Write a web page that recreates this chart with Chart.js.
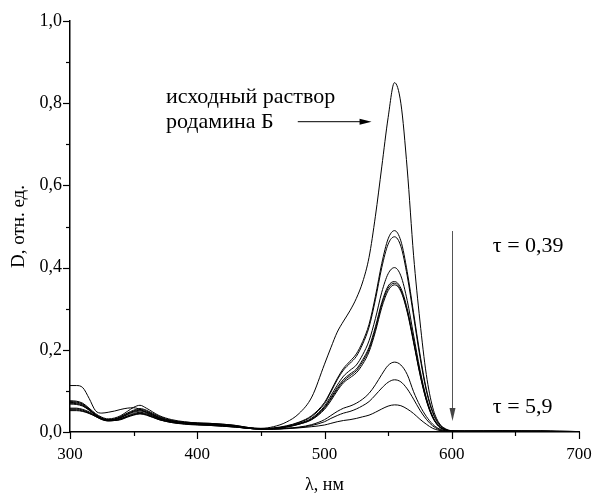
<!DOCTYPE html>
<html>
<head>
<meta charset="utf-8">
<script src="https://cdn.jsdelivr.net/npm/chart.js@4"></script>
<style>
  html, body { margin: 0; padding: 0; background: #fff; }
  #wrap { width: 593px; height: 494px; }
</style>
</head>
<body>
<div id="wrap"><canvas id="chart" width="593" height="494"></canvas></div>
<script>
// wavelength, nm
const lambda = [300,305,310,315,320,325,330,335,340,345,
  350,355,360,370,380,390,400,410,420,430,
  440,450,460,470,480,490,500,505,510,515,
  520,525,530,535,540,545,550,555,560,565,
  570,575,580,585,590,595,600,610,625,640,
  655,670,685,700];

// optical density spectra (initial rhodamine B solution first, then in time)
const dInit = [.113,.113,.108,.082,.052,.046,.048,.051,.055,.058,
  .059,.055,.047,.033,.027,.024,.022,.021,.019,.016,
  .011,.009,.013,.024,.045,.085,.165,.205,.243,.270,
  .295,.325,.365,.425,.525,.645,.765,.850,.800,.640,
  .430,.270,.140,.060,.022,.008,.003,.002,.002,.003,
  .002,.003,.002,.001];
const d2 = [.076,.075,.070,.058,.045,.036,.032,.034,.040,.050,
  .060,.065,.058,.040,.030,.025,.022,.021,.019,.016,
  .011,.008,.010,.015,.024,.040,.072,.100,.130,.155,
  .172,.190,.220,.262,.330,.410,.470,.490,.465,.390,
  .290,.190,.105,.050,.020,.007,.003,.002,.002,.002,
  .002,.002,.002,.001];
const d3 = [.074,.073,.068,.056,.043,.034,.030,.032,.038,.046,
  .053,.057,.053,.038,.028,.023,.021,.020,.018,.015,
  .010,.008,.009,.014,.023,.038,.069,.097,.127,.151,
  .167,.184,.214,.255,.322,.400,.457,.475,.452,.380,
  .282,.183,.101,.047,.018,.006,.002,.002,.002,.002,
  .002,.002,.001,.001];
const d4 = [.072,.071,.066,.055,.042,.033,.030,.031,.036,.044,
  .051,.055,.051,.036,.027,.023,.021,.019,.017,.014,
  .010,.008,.009,.013,.021,.034,.063,.088,.114,.136,
  .150,.163,.188,.222,.276,.340,.385,.400,.380,.320,
  .236,.152,.084,.038,.015,.005,.002,.002,.002,.002,
  .002,.002,.001,.001];
const d5 = [.070,.069,.064,.054,.042,.033,.029,.031,.036,.043,
  .050,.053,.049,.035,.026,.022,.020,.019,.017,.014,
  .010,.008,.009,.013,.020,.032,.060,.083,.108,.128,
  .141,.153,.176,.206,.256,.315,.355,.366,.350,.300,
  .224,.145,.080,.037,.014,.005,.002,.002,.002,.002,
  .002,.002,.001,.001];
const d6 = [.068,.067,.063,.053,.041,.032,.029,.030,.035,.042,
  .048,.051,.048,.034,.025,.021,.019,.018,.016,.013,
  .009,.007,.008,.012,.019,.031,.058,.080,.104,.124,
  .137,.149,.171,.201,.250,.310,.350,.362,.345,.295,
  .220,.142,.078,.036,.013,.005,.002,.002,.002,.002,
  .002,.001,.001,.001];
const d7 = [.058,.058,.055,.049,.040,.032,.028,.029,.033,.039,
  .045,.048,.045,.032,.024,.021,.019,.018,.016,.013,
  .009,.007,.008,.012,.019,.030,.055,.076,.100,.120,
  .132,.144,.165,.195,.244,.303,.344,.358,.342,.292,
  .218,.140,.077,.035,.013,.005,.002,.002,.002,.002,
  .002,.001,.001,.001];
const d8 = [.056,.056,.053,.047,.039,.031,.028,.028,.032,.038,
  .043,.046,.043,.031,.024,.020,.018,.017,.015,.012,
  .009,.007,.007,.009,.012,.018,.030,.040,.050,.058,
  .063,.070,.080,.094,.115,.140,.162,.170,.163,.140,
  .098,.064,.038,.019,.008,.003,.001,.001,.002,.002,
  .002,.001,.001,.001];
const d9 = [.054,.054,.051,.046,.038,.031,.027,.028,.031,.037,
  .042,.045,.042,.030,.023,.020,.018,.016,.014,.012,
  .009,.007,.007,.009,.011,.016,.025,.033,.040,.046,
  .050,.056,.064,.074,.090,.107,.121,.127,.122,.105,
  .080,.053,.031,.015,.006,.002,.001,.001,.001,.002,
  .001,.001,.001,.001];
const d10 = [.052,.052,.050,.045,.038,.030,.027,.028,.030,.036,
  .041,.044,.041,.030,.023,.019,.017,.016,.014,.012,
  .009,.007,.007,.008,.010,.013,.017,.021,.025,.028,
  .030,.033,.037,.041,.048,.056,.063,.066,.064,.056,
  .045,.031,.019,.009,.004,.002,.001,.001,.001,.001,
  .001,.001,.001,.001];

const spectra = [dInit, d2, d3, d4, d5, d6, d7, d8, d9, d10];

const serif = "'Liberation Serif', 'Times New Roman', serif";

// minor ticks, annotations and arrows
const decor = {
  id: 'decor',
  afterDraw(chart) {
    const { ctx, scales: { x, y } } = chart;
    ctx.save();
    ctx.strokeStyle = '#000';
    ctx.lineWidth = 1.2;

    const drawTicks = (scale, horiz) => {
      const vals = scale.ticks.map(t => t.value);
      const all = [];
      vals.forEach((v, i) => {
        all.push([v, 7]);
        if (i < vals.length - 1) all.push([(v + vals[i + 1]) / 2, 4]);
      });
      all.forEach(([v, len]) => {
        const p = Math.round(scale.getPixelForValue(v)) + 0.5;
        ctx.beginPath();
        if (horiz) {
          ctx.moveTo(p, scale.top);
          ctx.lineTo(p, scale.top + len);
        } else {
          ctx.moveTo(scale.right, p);
          ctx.lineTo(scale.right - len, p);
        }
        ctx.stroke();
      });
    };
    drawTicks(x, true);
    drawTicks(y, false);

    ctx.fillStyle = '#000';
    ctx.font = '22px ' + serif;
    ctx.textBaseline = 'alphabetic';
    ctx.fillText('исходный раствор', x.getPixelForValue(375.4), y.getPixelForValue(0.80));
    ctx.fillText('родамина Б', x.getPixelForValue(375.4), y.getPixelForValue(0.739));
    ctx.fillText('τ = 0,39', x.getPixelForValue(632.3), y.getPixelForValue(0.438));
    ctx.fillText('τ = 5,9', x.getPixelForValue(632.3), y.getPixelForValue(0.046));

    // horizontal arrow to the initial spectrum
    const hy = y.getPixelForValue(0.755);
    const hx0 = x.getPixelForValue(479), hx1 = x.getPixelForValue(537);
    ctx.lineWidth = 1;
    ctx.beginPath();
    ctx.moveTo(hx0, hy);
    ctx.lineTo(hx1 - 8, hy);
    ctx.stroke();
    ctx.beginPath();
    ctx.moveTo(hx1, hy);
    ctx.lineTo(hx1 - 12, hy - 3);
    ctx.lineTo(hx1 - 12, hy + 3);
    ctx.closePath();
    ctx.fill();

    // vertical arrow, time direction
    ctx.strokeStyle = '#555';
    ctx.fillStyle = '#444';
    const vx = Math.round(x.getPixelForValue(600)) + 0.5;
    const vy0 = y.getPixelForValue(0.489), vy1 = y.getPixelForValue(0.027);
    ctx.beginPath();
    ctx.moveTo(vx, vy0);
    ctx.lineTo(vx, vy1 - 8);
    ctx.stroke();
    ctx.beginPath();
    ctx.moveTo(vx, vy1);
    ctx.lineTo(vx - 3, vy1 - 13);
    ctx.lineTo(vx + 3, vy1 - 13);
    ctx.closePath();
    ctx.fill();
    ctx.restore();
  }
};

const chart = new Chart(document.getElementById('chart'), {
  type: 'line',
  data: {
    datasets: spectra.map((d, k) => ({
      label: 'D' + (k + 1),
      data: lambda.map((l, i) => ({ x: l, y: d[i] })),
      borderColor: '#000',
      borderWidth: 1,
      pointRadius: 0,
      fill: false,
      cubicInterpolationMode: 'monotone',
    })),
  },
  options: {
    responsive: false,
    animation: false,
    devicePixelRatio: 1,
    layout: { padding: { top: 21, right: 0, left: 0, bottom: 0 } },
    plugins: { legend: { display: false }, tooltip: { enabled: false } },
    scales: {
      x: {
        type: 'linear',
        min: 300,
        max: 700,
        ticks: {
          stepSize: 100,
          color: '#000',
          padding: 12,
          maxRotation: 0,
          font: { family: serif, size: 17 },
        },
        grid: { display: true, drawOnChartArea: false, drawTicks: false },
        border: { display: true, color: '#000', width: 1.5 },
        title: {
          display: true,
          text: 'λ, нм',
          color: '#000',
          font: { family: serif, size: 18, lineHeight: 1 },
          padding: 0,
        },
        afterFit: s => { s.height = 62; s.paddingRight = 14; },
      },
      y: {
        type: 'linear',
        min: 0,
        max: 1,
        ticks: {
          stepSize: 0.2,
          color: '#000',
          padding: 8,
          font: { family: serif, size: 18 },
          callback: v => v.toFixed(1).replace('.', ','),
        },
        grid: { display: true, drawOnChartArea: false, drawTicks: false },
        border: { display: true, color: '#000', width: 1.5 },
        title: {
          display: true,
          text: 'D, отн. ед.',
          color: '#000',
          font: { family: serif, size: 19 },
          padding: { top: 8, bottom: 0 },
        },
        afterFit: s => { s.width = 70; },
      },
    },
  },
  plugins: [decor],
});
</script>
</body>
</html>
